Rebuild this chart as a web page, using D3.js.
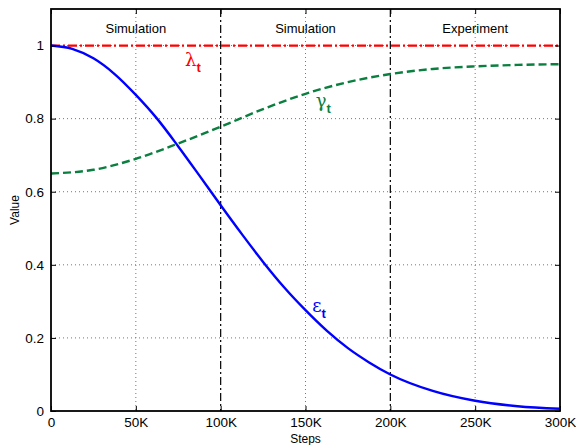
<!DOCTYPE html>
<html>
<head>
<meta charset="utf-8">
<script src="https://cdn.jsdelivr.net/npm/d3@7"></script>
<style>
  body { margin: 0; background: #fff; }
  text { font-family: "Liberation Sans", Arial, sans-serif; }
</style>
</head>
<body>
<div id="chart"></div>
<script>
// data
const steps = [0, 12500, 25000, 37500, 50000, 62500, 75000, 87500, 100000, 112500, 125000,
  137500, 150000, 162500, 175000, 187500, 200000, 225000, 250000, 275000, 300000];
const epsilon = [1.0, 0.991, 0.965, 0.922, 0.865, 0.8, 0.724, 0.644, 0.563, 0.484, 0.408,
  0.338, 0.276, 0.22, 0.172, 0.133, 0.1, 0.055, 0.028, 0.013, 0.006];

const gammaSteps = [0, 25000, 50000, 75000, 100000, 125000, 150000, 175000, 200000, 225000, 250000, 275000, 300000];
const gamma = [0.65, 0.66, 0.69, 0.732, 0.778, 0.826, 0.868, 0.9, 0.922, 0.936, 0.943, 0.947, 0.949];

const lambdaSteps = [0, 300000];
const lambda = [1.0, 1.0];

const phaseBreaks = [100000, 200000];
const phaseLabels = [
  { text: "Simulation", at: 50000 },
  { text: "Simulation", at: 150000 },
  { text: "Experiment", at: 250000 }
];

const xTicks = [0, 50000, 100000, 150000, 200000, 250000, 300000];
const xTickLabels = ["0", "50K", "100K", "150K", "200K", "250K", "300K"];
const yTicks = [0, 0.2, 0.4, 0.6, 0.8, 1];
const yTickLabels = ["0", "0.2", "0.4", "0.6", "0.8", "1"];

const drawChart = (elementId) => {
  // set the dimensions and margins of the graph
  const margin = { top: 9, right: 16, bottom: 34, left: 51 },
    width = 576 - margin.left - margin.right,
    height = 445 - margin.top - margin.bottom;

  const svg = d3
    .select(elementId)
    .append("svg")
    .attr("width", width + margin.left + margin.right)
    .attr("height", height + margin.top + margin.bottom)
    .append("g")
    .attr("transform", `translate(${margin.left},${margin.top})`);

  const x = d3.scaleLinear().domain([0, 300000]).range([0, width]);
  const y = d3.scaleLinear().domain([0, 1.1]).range([height, 0]);

  // dotted grid
  svg
    .append("g")
    .selectAll("line")
    .data(xTicks.filter((t) => t > 0 && t < 300000 && !phaseBreaks.includes(t)))
    .join("line")
    .attr("x1", (d) => x(d))
    .attr("x2", (d) => x(d))
    .attr("y1", 0)
    .attr("y2", height)
    .attr("stroke", "#777")
    .attr("stroke-width", 1)
    .attr("stroke-dasharray", "1,3");

  svg
    .append("g")
    .selectAll("line")
    .data(yTicks.filter((t) => t > 0))
    .join("line")
    .attr("x1", 0)
    .attr("x2", width)
    .attr("y1", (d) => y(d))
    .attr("y2", (d) => y(d))
    .attr("stroke", "#777")
    .attr("stroke-width", 1)
    .attr("stroke-dasharray", "1,3");

  // phase separators (dash-dot)
  svg
    .append("g")
    .selectAll("line")
    .data(phaseBreaks)
    .join("line")
    .attr("x1", (d) => x(d))
    .attr("x2", (d) => x(d))
    .attr("y1", 0)
    .attr("y2", height)
    .attr("stroke", "#000")
    .attr("stroke-width", 1.2)
    .attr("stroke-dasharray", "8,3,2,3");

  svg
    .append("g")
    .selectAll("text")
    .data(phaseLabels)
    .join("text")
    .attr("x", (d) => x(d.at))
    .attr("y", 24)
    .attr("text-anchor", "middle")
    .attr("font-size", 13)
    .text((d) => d.text);

  // curves
  const line = (xs) =>
    d3
      .line()
      .x((d, i) => x(xs[i]))
      .y((d) => y(d))
      .curve(d3.curveMonotoneX);

  svg
    .append("path")
    .datum(lambda)
    .attr("d", line(lambdaSteps))
    .attr("fill", "none")
    .attr("stroke", "#ff0000")
    .attr("stroke-width", 2.3)
    .attr("stroke-dasharray", "9,3,2,3");

  svg
    .append("path")
    .datum(gamma)
    .attr("d", line(gammaSteps))
    .attr("fill", "none")
    .attr("stroke", "#0a7f3f")
    .attr("stroke-width", 2.4)
    .attr("stroke-dasharray", "8,4");

  svg
    .append("path")
    .datum(epsilon)
    .attr("d", line(steps))
    .attr("fill", "none")
    .attr("stroke", "#0000ff")
    .attr("stroke-width", 2.4);

  // curve labels with subscript t
  const curveLabels = [
    { sym: "\u03bb", color: "#ff0000", s: 79000, v: 0.945 },
    { sym: "\u03b3", color: "#0a7f3f", s: 156000, v: 0.833 },
    { sym: "\u03b5", color: "#0000ff", s: 154000, v: 0.272 }
  ];
  const lbl = svg
    .append("g")
    .selectAll("text")
    .data(curveLabels)
    .join("text")
    .attr("x", (d) => x(d.s))
    .attr("y", (d) => y(d.v))
    .attr("fill", (d) => d.color)
    .attr("font-size", 17);
  lbl.append("tspan").attr("font-family", "DejaVu Serif, serif").attr("font-size", 18).text((d) => d.sym);
  lbl
    .append("tspan")
    .attr("dy", 6)
    .attr("font-size", 13)
    .attr("font-weight", "bold")
    .text("t");

  // axes: box with inward ticks
  const xAxis = svg.append("g").attr("transform", `translate(0,${height})`);
  xAxis
    .call(d3.axisBottom(x).tickValues(xTicks).tickSize(-5).tickPadding(6).tickFormat((d, i) => xTickLabels[i]))
    .call((g) => g.select(".domain").remove());
  xAxis.selectAll("text").attr("font-size", 13.5).attr("font-family", "Liberation Sans, Arial, sans-serif");

  const yAxis = svg.append("g");
  yAxis
    .call(d3.axisLeft(y).tickValues(yTicks).tickSize(-5).tickPadding(7).tickFormat((d, i) => yTickLabels[i]))
    .call((g) => g.select(".domain").remove());
  yAxis.selectAll("text").attr("font-size", 13.5).attr("font-family", "Liberation Sans, Arial, sans-serif");

  svg
    .append("g")
    .call(d3.axisTop(x).tickValues(xTicks).tickSize(-5).tickFormat(""))
    .call((g) => g.select(".domain").remove());
  svg
    .append("g")
    .attr("transform", `translate(${width},0)`)
    .call(d3.axisRight(y).tickValues(yTicks).tickSize(-5).tickFormat(""))
    .call((g) => g.select(".domain").remove());

  svg
    .append("rect")
    .attr("x", 0)
    .attr("y", 0)
    .attr("width", width)
    .attr("height", height)
    .attr("fill", "none")
    .attr("stroke", "#000")
    .attr("stroke-width", 1.8);

  // axis titles
  svg
    .append("text")
    .attr("x", width / 2)
    .attr("y", height + 32)
    .attr("text-anchor", "middle")
    .attr("font-size", 12)
    .text("Steps");

  svg
    .append("text")
    .attr("transform", `translate(${-32},${height / 2}) rotate(-90)`)
    .attr("text-anchor", "middle")
    .attr("font-size", 12)
    .text("Value");
};

drawChart("#chart");
</script>
</body>
</html>
